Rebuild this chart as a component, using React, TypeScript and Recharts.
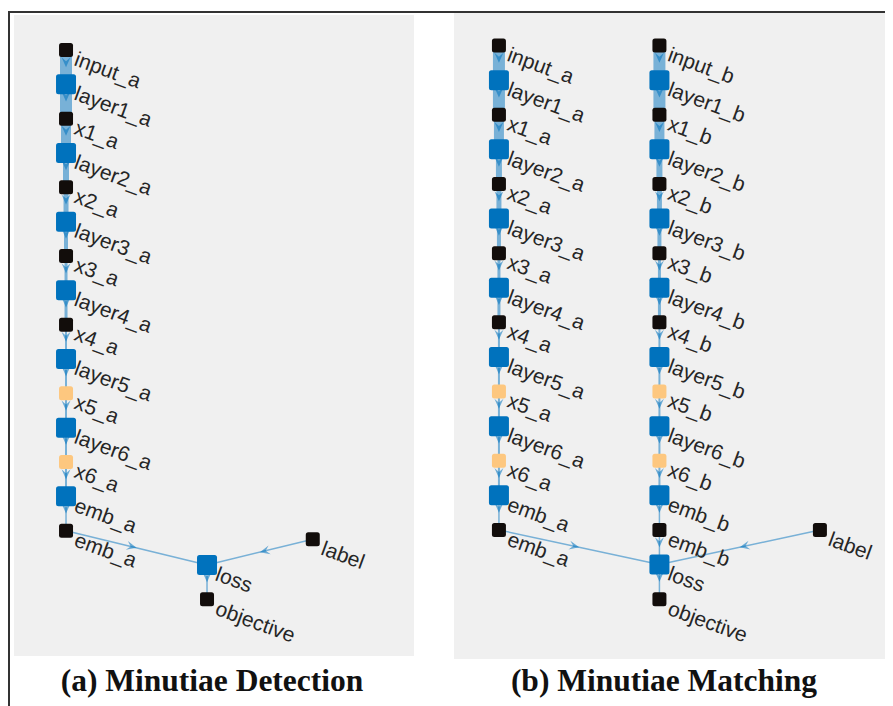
import React from "react";
import { ScatterChart, Scatter, XAxis, YAxis, ReferenceLine } from "recharts";

// (a) Minutiae Detection graph
const detNames = [
  "input_a", "layer1_a", "x1_a", "layer2_a", "x2_a", "layer3_a", "x3_a",
  "layer4_a", "x4_a", "layer5_a", "x5_a", "layer6_a", "x6_a", "emb_a", "emb_a",
  "loss", "objective", "label",
];
const detKinds = [
  "io", "layer", "act", "layer", "act", "layer", "act", "layer", "act",
  "layer", "drop", "layer", "drop", "layer", "io", "layer", "io", "io",
];
const detCol = [1, 1, 1, 1, 1, 1, 1, 1, 1, 1, 1, 1, 1, 1, 1, 2, 2, 2.75];
const detLevel = [16, 15, 14, 13, 12, 11, 10, 9, 8, 7, 6, 5, 4, 3, 2, 1, 0, 1.75];
const detEdges = [
  [0, 1], [1, 2], [2, 3], [3, 4], [4, 5], [5, 6], [6, 7], [7, 8], [8, 9],
  [9, 10], [10, 11], [11, 12], [12, 13], [13, 14], [14, 15], [17, 15], [15, 16],
];

// (b) Minutiae Matching graph
const chainA = [
  "input_a", "layer1_a", "x1_a", "layer2_a", "x2_a", "layer3_a", "x3_a",
  "layer4_a", "x4_a", "layer5_a", "x5_a", "layer6_a", "x6_a", "emb_a", "emb_a",
];
const chainB = [
  "input_b", "layer1_b", "x1_b", "layer2_b", "x2_b", "layer3_b", "x3_b",
  "layer4_b", "x4_b", "layer5_b", "x5_b", "layer6_b", "x6_b", "emb_b", "emb_b",
];
const chainKinds = [
  "io", "layer", "act", "layer", "act", "layer", "act", "layer", "act",
  "layer", "drop", "layer", "drop", "layer", "io",
];
const chainLevel = [16, 15, 14, 13, 12, 11, 10, 9, 8, 7, 6, 5, 4, 3, 2];
const matchNames = [...chainA, ...chainB, "loss", "objective", "label"];
const matchKinds = [...chainKinds, ...chainKinds, "layer", "io", "io"];
const matchCol = [...chainA.map(() => 1), ...chainB.map(() => 2), 2, 2, 3];
const matchLevel = [...chainLevel, ...chainLevel, 1, 0, 2];
const matchEdges = [
  ...chainA.slice(1).map((_, i) => [i, i + 1]),
  ...chainB.slice(1).map((_, i) => [15 + i, 16 + i]),
  [14, 30], [29, 30], [32, 30], [30, 31],
];

// edge widths along the chains (thicker at the top)
const chainWidths = [12, 12, 10, 6, 5, 4, 3, 3, 2, 2, 2, 2, 2, 1.5];

const COLORS: Record<string, string> = {
  io: "#120d0b",
  layer: "#0072BD",
  act: "#120d0b",
  drop: "#FDC77F",
};

function NodeShape(props: any) {
  const { cx, cy, payload } = props;
  if (cx == null || cy == null) return null;
  const s = payload.kind === "layer" ? 20 : 14;
  return (
    <g>
      <rect x={cx - s / 2} y={cy - s / 2} width={s} height={s} rx={2.5} fill={COLORS[payload.kind]} />
      <text
        transform={`translate(${cx + 7},${cy + 15}) rotate(20)`}
        fontFamily="'Liberation Sans', Arial, sans-serif"
        fontSize={21}
        fill="#262626"
      >
        {payload.name}
      </text>
    </g>
  );
}

const edgeShape = (w: number) => (p: any) => {
  const { x1, y1, x2, y2 } = p;
  if ([x1, y1, x2, y2].some((v) => v == null || isNaN(v))) return <g />;
  const dx = x2 - x1;
  const dy = y2 - y1;
  const len = Math.hypot(dx, dy) || 1;
  const ux = dx / len;
  const uy = dy / len;
  const px = -uy;
  const py = ux;
  const tx = x1 + dx * 0.5;
  const ty = y1 + dy * 0.5;
  const L = 10, W = 4.5, N = 6;
  const pts = [
    [tx, ty],
    [tx - L * ux + W * px, ty - L * uy + W * py],
    [tx - N * ux, ty - N * uy],
    [tx - L * ux - W * px, ty - L * uy - W * py],
  ]
    .map((q) => q.join(","))
    .join(" ");
  return (
    <g>
      <line x1={x1} y1={y1} x2={x2} y2={y2} stroke="#0072BD" strokeOpacity={0.5} strokeWidth={w} />
      <polygon points={pts} fill="#0072BD" fillOpacity={0.55} />
    </g>
  );
};

function GraphPanel({
  names, kinds, cols, levels, edges, width, height, xDomain, yDomain,
}: any) {
  const nodes = names.map((n: string, i: number) => ({
    name: n, kind: kinds[i], x: cols[i], y: levels[i],
  }));
  return (
    <ScatterChart width={width} height={height} margin={{ top: 0, right: 0, bottom: 0, left: 0 }}
      style={{ background: "#F0F0F0" }}>
      <XAxis type="number" dataKey="x" domain={xDomain} hide allowDataOverflow />
      <YAxis type="number" dataKey="y" domain={yDomain} hide allowDataOverflow />
      {edges.map(([a, b]: number[], i: number) => {
        const sameChain = cols[a] === cols[b] && levels[a] - levels[b] === 1 && levels[b] >= 2;
        const w = sameChain ? chainWidths[16 - levels[a]] : 1.5;
        return (
          <ReferenceLine
            key={i}
            segment={[{ x: cols[a], y: levels[a] }, { x: cols[b], y: levels[b] }]}
            shape={edgeShape(w)}
            ifOverflow="visible"
          />
        );
      })}
      <Scatter data={nodes} shape={NodeShape} isAnimationActive={false} />
    </ScatterChart>
  );
}

export default function App() {
  return (
    <div style={{ position: "relative", width: 885, height: 698, background: "#fff" }}>
      <div style={{ position: "absolute", left: 0, top: 3, width: 885, height: 700, borderTop: "2px solid #333", borderLeft: "2px solid #333", boxSizing: "border-box" }} />
      <div style={{ position: "absolute", left: 6, top: 7 }}>
        <GraphPanel names={detNames} kinds={detKinds} cols={detCol} levels={detLevel} edges={detEdges}
          width={400} height={641} xDomain={[0.631, 3.468]} yDomain={[-1.65, 17.02]} />
      </div>
      <div style={{ position: "absolute", left: 446, top: 5 }}>
        <GraphPanel names={matchNames} kinds={matchKinds} cols={matchCol} levels={matchLevel} edges={matchEdges}
          width={433} height={646} xDomain={[0.72, 3.418]} yDomain={[-1.73, 16.94]} />
      </div>
      <div style={{ position: "absolute", left: 4, top: 657, width: 400, textAlign: "center", font: "bold 31.5px/31px 'Liberation Serif', 'Times New Roman', serif", color: "#111" }}>
        (a) Minutiae Detection
      </div>
      <div style={{ position: "absolute", left: 456, top: 657, width: 400, textAlign: "center", font: "bold 31.5px/31px 'Liberation Serif', 'Times New Roman', serif", color: "#111" }}>
        (b) Minutiae Matching
      </div>
    </div>
  );
}
